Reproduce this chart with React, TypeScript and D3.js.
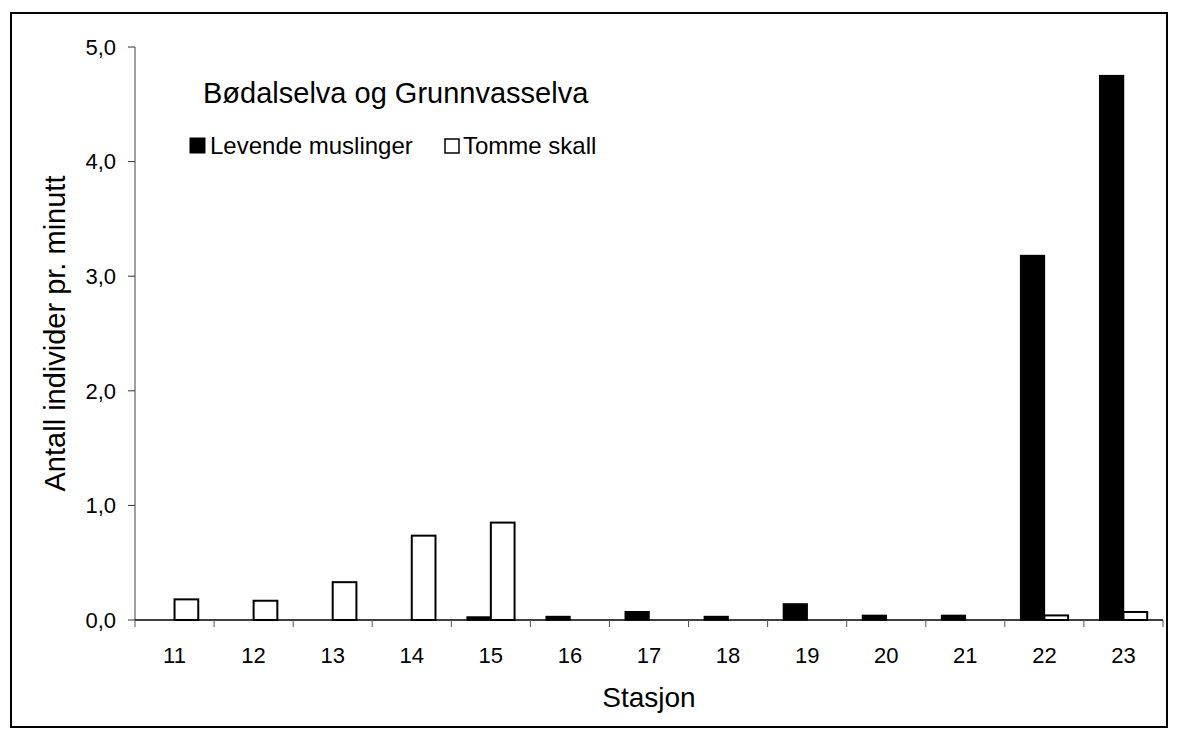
import React from "react";
import * as d3 from "d3";

const categories = ["11", "12", "13", "14", "15", "16", "17", "18", "19", "20", "21", "22", "23"];
const levende = [0, 0, 0, 0, 0.026, 0.03, 0.072, 0.03, 0.14, 0.04, 0.04, 3.18, 4.75];
const tomme = [0.18, 0.168, 0.33, 0.736, 0.85, 0, 0, 0, 0, 0, 0, 0.04, 0.07];
const yTicks = [0, 1, 2, 3, 4, 5];
const seriesNames = ["Levende muslinger", "Tomme skall"];
const chartTitle = "Bødalselva og Grunnvasselva";

const W = 1178;
const H = 738;
const left = 135;
const right = 1163;
const top = 47;
const bottom = 620;
const font = "'Liberation Sans', Arial, sans-serif";

export default function App() {
  const x = d3.scaleBand<string>().domain(categories).range([left, right]).paddingInner(0.4).paddingOuter(0.2);
  const step = x.step();
  const bw = x.bandwidth() / 2;
  const y = d3.scaleLinear().domain([0, 5]).range([bottom, top]);
  const fmt = (v: number) => v.toFixed(1).replace(".", ",");
  const boundaries = d3.range(categories.length + 1).map((i) => left + i * step);

  return (
    <svg width={W} height={H} style={{ position: "absolute", left: 0, top: 0, background: "#fff" }} fontFamily={font}>
      <rect x={11} y={13} width={1156} height={714} fill="#fff" stroke="#000" strokeWidth={2} />
      {/* y axis */}
      <line x1={left} x2={left} y1={top} y2={bottom} stroke="#808080" strokeWidth={1.5} />
      {yTicks.map((t) => (
        <g key={t}>
          <line x1={left - 7} x2={left} y1={y(t)} y2={y(t)} stroke="#333" strokeWidth={1} />
          <text x={116} y={y(t)} dy="0.35em" textAnchor="end" fontSize={22} fill="#000">
            {fmt(t)}
          </text>
        </g>
      ))}
      {/* bars */}
      {categories.map((c, i) => {
        const x0 = x(c)!;
        return (
          <g key={c}>
            {levende[i] > 0 && (
              <rect x={x0} y={y(levende[i])} width={bw} height={y(0) - y(levende[i])} fill="#000" stroke="#000" strokeWidth={1.5} />
            )}
            {tomme[i] > 0 && (
              <rect x={x0 + bw} y={y(tomme[i])} width={bw} height={y(0) - y(tomme[i])} fill="#fff" stroke="#000" strokeWidth={2} />
            )}
          </g>
        );
      })}
      {/* x axis */}
      <line x1={left} x2={right} y1={bottom} y2={bottom} stroke="#000" strokeWidth={1.5} />
      {boundaries.map((b, i) => (
        <line key={i} x1={b} x2={b} y1={bottom} y2={bottom + 7} stroke="#555" strokeWidth={1} />
      ))}
      {categories.map((c) => (
        <text key={c} x={x(c)! + x.bandwidth() / 2} y={663} textAnchor="middle" fontSize={22} fill="#000">
          {c}
        </text>
      ))}
      <text x={(left + right) / 2} y={707} textAnchor="middle" fontSize={28} fill="#000">
        Stasjon
      </text>
      <text transform={`translate(65, ${(top + bottom) / 2}) rotate(-90)`} textAnchor="middle" fontSize={29} fill="#000">
        Antall individer pr. minutt
      </text>
      {/* title and legend */}
      <text x={203} y={103} fontSize={29} fill="#000">
        {chartTitle}
      </text>
      <rect x={190} y={138} width={15} height={15} fill="#000" stroke="#000" strokeWidth={1} />
      <text x={210} y={154} fontSize={24} fill="#000">
        {seriesNames[0]}
      </text>
      <rect x={445} y={139} width={14} height={14} fill="#fff" stroke="#000" strokeWidth={1.5} />
      <text x={463} y={154} fontSize={24} fill="#000">
        {seriesNames[1]}
      </text>
    </svg>
  );
}
